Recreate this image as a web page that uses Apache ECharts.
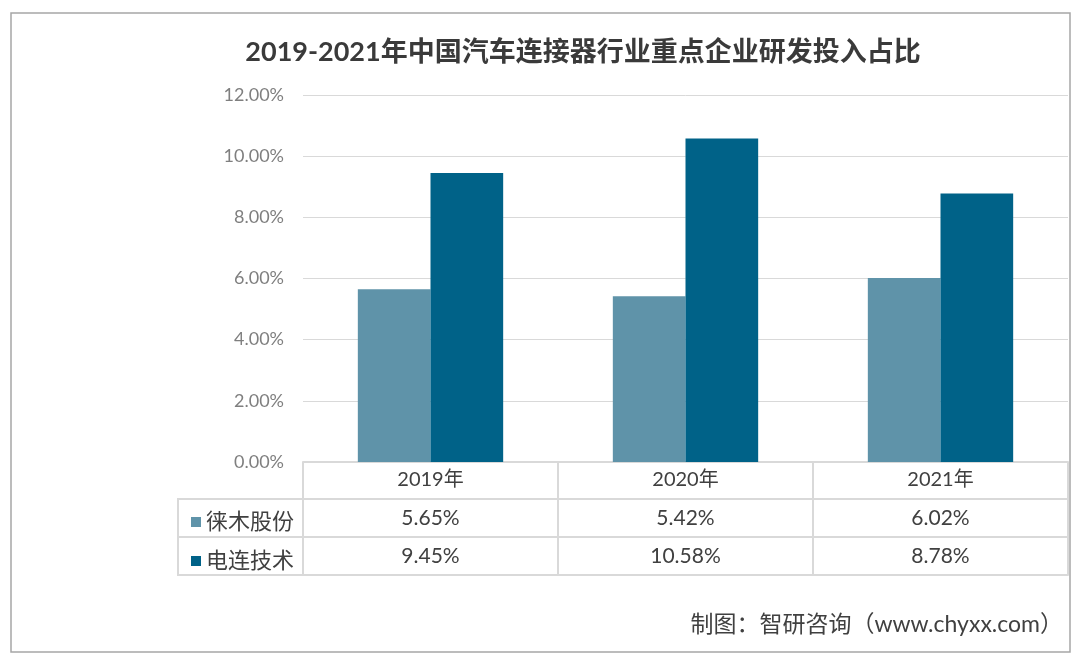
<!DOCTYPE html>
<html>
<head>
<meta charset="utf-8">
<script src="https://cdn.jsdelivr.net/npm/echarts@6/dist/echarts.min.js"></script>
<style>html,body{margin:0;padding:0;background:#fff}#c{width:1075px;height:655px}</style>
</head>
<body>
<div id="c"></div>
<script>
const categories = ['2019年', '2020年', '2021年'];
const seriesNames = ['徕木股份', '电连技术'];
const laimu = [5.65, 5.42, 6.02];
const dianlian = [9.45, 10.58, 8.78];
const yTicks = { min: 0, max: 12, interval: 2 };
const titleText = '2019-2021年中国汽车连接器行业重点企业研发投入占比';
const sourceText = '制图：智研咨询（www.chyxx.com）';

const FONT = "Lato, 'Noto Sans CJK SC', sans-serif";
const GRID_L = 303, GRID_R = 7, GRID_T = 95, GRID_B = 193;
const lineColor = '#d9d9d9';
const fmt = v => v.toFixed(2) + '%';

const chart = echarts.init(document.getElementById('c'));
chart.setOption({
  backgroundColor: '#fff',
  animation: false,
  title: {
    text: titleText, left: 578, top: 34, textAlign: 'center',
    textStyle: { fontFamily: FONT, fontSize: 27, fontWeight: 'bold', color: '#3a3a3a' }
  },
  legend: {
    orient: 'vertical', left: 186, top: 506, itemWidth: 10, itemHeight: 10, itemGap: 17,
    icon: 'rect', selectedMode: false,
    textStyle: { fontFamily: FONT, fontSize: 22, color: '#404040', lineHeight: 22, padding: [0, 0, 0, 0] },
    data: seriesNames
  },
  grid: { left: GRID_L, right: GRID_R, top: GRID_T, bottom: GRID_B },
  yAxis: {
    type: 'value', min: yTicks.min, max: yTicks.max, interval: yTicks.interval,
    axisLine: { show: false }, axisTick: { show: false },
    splitLine: { lineStyle: { color: lineColor, width: 1 } },
    axisLabel: { formatter: fmt, margin: 19, fontFamily: FONT, fontSize: 18, color: '#7f7f7f' }
  },
  xAxis: [
    {
      type: 'category', data: categories, position: 'bottom',
      axisLine: { lineStyle: { color: lineColor, width: 2 } },
      axisTick: { show: true, length: 113, interval: 0, lineStyle: { color: lineColor, width: 2 } },
      axisLabel: { margin: 8, fontFamily: FONT, fontSize: 20, color: '#404040' }
    },
    {
      type: 'category', data: laimu.map(fmt), position: 'bottom', offset: 37,
      axisLine: { lineStyle: { color: lineColor, width: 2 } }, axisTick: { show: false },
      axisLabel: { margin: 9, fontFamily: FONT, fontSize: 21, color: '#404040' }
    },
    {
      type: 'category', data: dianlian.map(fmt), position: 'bottom', offset: 75,
      axisLine: { lineStyle: { color: lineColor, width: 2 } }, axisTick: { show: false },
      axisLabel: { margin: 9, fontFamily: FONT, fontSize: 21, color: '#404040' }
    },
    {
      type: 'category', data: categories, position: 'bottom', offset: 113,
      axisLine: { lineStyle: { color: lineColor, width: 2 } }, axisTick: { show: false },
      axisLabel: { show: false }
    }
  ],
  series: [
    { name: seriesNames[0], type: 'bar', data: laimu, barGap: '0%', barCategoryGap: '43%',
      itemStyle: { color: '#5f93a9' } },
    { name: seriesNames[1], type: 'bar', data: dianlian, barGap: '0%', barCategoryGap: '43%',
      itemStyle: { color: '#006288' } }
  ],
  graphic: [
    { type: 'rect', shape: { x: 11, y: 13, width: 1059, height: 639 }, silent: true,
      style: { fill: 'none', stroke: '#a6a6a6', lineWidth: 1.5 } },
    { type: 'line', shape: { x1: 178, y1: 499, x2: GRID_L, y2: 499 }, style: { stroke: lineColor, lineWidth: 2 } },
    { type: 'line', shape: { x1: 178, y1: 537, x2: GRID_L, y2: 537 }, style: { stroke: lineColor, lineWidth: 2 } },
    { type: 'line', shape: { x1: 178, y1: 575, x2: GRID_L, y2: 575 }, style: { stroke: lineColor, lineWidth: 2 } },
    { type: 'line', shape: { x1: 178, y1: 498, x2: 178, y2: 576 }, style: { stroke: lineColor, lineWidth: 2 } },
    { type: 'text', right: 12, top: 613,
      style: { text: sourceText, fontFamily: FONT, fontSize: 23, fill: '#404040' } }
  ]
});
</script>
</body>
</html>
